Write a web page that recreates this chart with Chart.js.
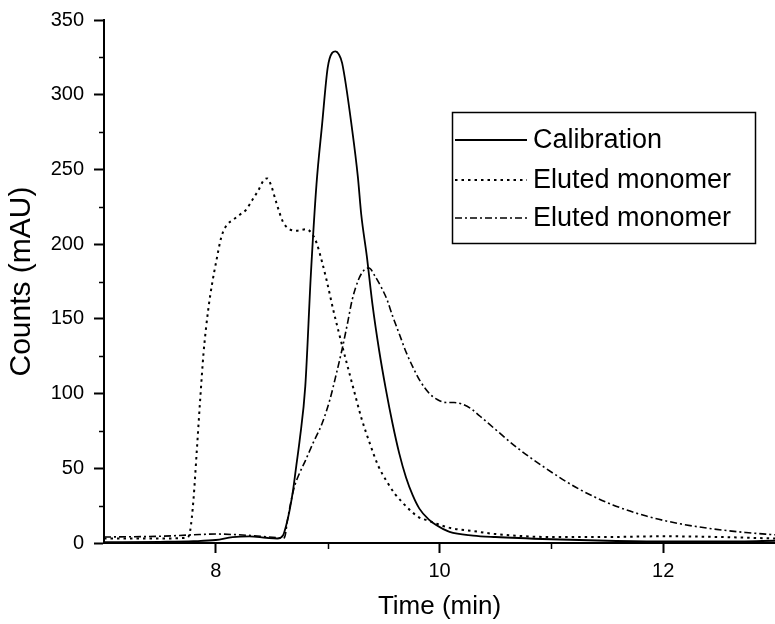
<!DOCTYPE html>
<html>
<head>
<meta charset="utf-8">
<script src="https://cdn.jsdelivr.net/npm/chart.js@4/dist/chart.umd.min.js"></script>
<style>
html,body{margin:0;padding:0;background:#fff;}
#wrap{width:775px;height:624px;position:relative;}
</style>
</head>
<body>
<div id="wrap"><canvas id="c" width="775" height="624"></canvas></div>
<script>
// ---- data ----
const seriesLabels = ['Calibration', 'Eluted monomer', 'Eluted monomer'];

const calTime   = [7.0, 7.5, 7.8, 8.0, 8.15, 8.3, 8.45, 8.55, 8.6, 8.63, 8.66, 8.69, 8.72, 8.75, 8.8, 8.85, 8.9, 8.95, 9.0, 9.04, 9.07, 9.1, 9.13, 9.22, 9.27, 9.3, 9.35, 9.4, 9.46, 9.52, 9.58, 9.64, 9.7, 9.76, 9.82, 9.9, 9.97, 10.09, 10.3, 10.5, 11.0, 11.5, 12.0, 12.5, 13.0];
const calCounts = [0.5, 0.8, 1.2, 2, 4, 4.5, 3.5, 3, 5, 12, 22, 35, 52, 69, 105, 180, 240, 280, 318, 328, 329, 327, 321, 276, 245, 220, 192, 160, 129, 103, 80, 60, 44, 32, 23, 16, 12, 7.5, 5, 4, 2.5, 1.5, 1, 1, 1.5];

const elu1Time   = [7.0, 7.5, 7.74, 7.77, 7.8, 7.83, 7.86, 7.89, 7.93, 7.97, 8.0, 8.05, 8.1, 8.15, 8.22, 8.27, 8.33, 8.38, 8.43, 8.46, 8.5, 8.54, 8.6, 8.66, 8.72, 8.81, 8.86, 8.9, 8.95, 8.99, 9.05, 9.13, 9.2, 9.26, 9.3, 9.38, 9.45, 9.53, 9.6, 9.67, 9.75, 9.82, 9.9, 9.97, 10.1, 10.3, 10.5, 11.0, 11.5, 12.0, 12.5, 13.0];
const elu1Counts = [3, 3, 3.5, 8, 29, 62, 96, 127, 155, 175, 187, 205, 213, 216, 220, 223, 230, 236, 243, 244, 238, 228, 215, 210, 209, 210, 207, 201, 188, 176, 156, 132, 112, 95, 84, 66, 52, 41, 33, 27, 21, 17, 15, 13, 10, 8, 6, 4, 4, 4.5, 4, 3];

const elu2Time   = [7.0, 7.5, 7.8, 8.0, 8.2, 8.4, 8.55, 8.6, 8.62, 8.64, 8.67, 8.7, 8.75, 8.8, 8.87, 8.95, 9.02, 9.08, 9.13, 9.18, 9.22, 9.28, 9.33, 9.37, 9.42, 9.48, 9.53, 9.58, 9.64, 9.7, 9.76, 9.83, 9.91, 9.98, 10.06, 10.13, 10.2, 10.28, 10.36, 10.5, 10.69, 10.95, 11.25, 11.55, 11.85, 12.14, 12.44, 12.74, 13.0];
const elu2Counts = [4, 4.5, 5.5, 6, 5.5, 4.5, 3.5, 3, 5, 15, 27, 37, 47, 55, 67, 80, 96, 114, 130, 148, 163, 177, 183, 184, 179, 171, 163, 152, 140, 128, 118, 108, 100, 96, 94, 94, 93, 90, 85, 76, 64, 50, 36, 25.5, 18, 13, 9.5, 7, 5.5];

const xTicks = [8, 10, 12];
const xMinorTicks = [9, 11];
const yTicks = [0, 50, 100, 150, 200, 250, 300, 350];
const yMinorTicks = [25, 75, 125, 175, 225, 275, 325];

// ---- build ----
const toPts = (xs, ys) => xs.map((x, i) => ({x: x, y: ys[i]}));
const FONT = '"Liberation Sans", Arial, Helvetica, sans-serif';
Chart.defaults.font.family = FONT;
Chart.defaults.color = '#000';

const styles = [
  {borderDash: [], borderWidth: 1.8},
  {borderDash: [2.5, 4], borderWidth: 2},
  {borderDash: [7, 3, 2, 3], borderWidth: 1.6}
];

const datasets = [
  toPts(calTime, calCounts),
  toPts(elu1Time, elu1Counts),
  toPts(elu2Time, elu2Counts)
].map((d, i) => ({
  label: seriesLabels[i],
  data: d,
  borderColor: '#000',
  backgroundColor: '#000',
  borderWidth: styles[i].borderWidth,
  borderDash: styles[i].borderDash,
  pointRadius: 0,
  cubicInterpolationMode: 'monotone',
  fill: false
}));

const minorTicks = {
  id: 'minorTicks',
  afterDraw(chart) {
    const ctx = chart.ctx, xs = chart.scales.x, ys = chart.scales.y;
    const a = chart.chartArea;
    ctx.save();
    ctx.strokeStyle = '#000';
    ctx.lineWidth = 1.5;
    ctx.beginPath();
    yMinorTicks.forEach(v => {
      const p = Math.round(ys.getPixelForValue(v)) + 0.5;
      ctx.moveTo(a.left - 5, p); ctx.lineTo(a.left, p);
    });
    xMinorTicks.forEach(v => {
      const p = Math.round(xs.getPixelForValue(v)) + 0.5;
      ctx.moveTo(p, a.bottom); ctx.lineTo(p, a.bottom + 6);
    });
    ctx.stroke();
    ctx.restore();
  }
};

const boxLegend = {
  id: 'boxLegend',
  afterDraw(chart) {
    const ctx = chart.ctx;
    const bx = 452, by = 112, bw = 303, bh = 131;
    ctx.save();
    ctx.strokeStyle = '#000';
    ctx.lineWidth = 1.5;
    ctx.setLineDash([]);
    ctx.strokeRect(bx + 0.5, by + 0.5, bw, bh);
    const rows = [140, 180, 218];
    chart.data.datasets.forEach((ds, i) => {
      const y = rows[i];
      ctx.beginPath();
      ctx.setLineDash(ds.borderDash);
      ctx.lineWidth = ds.borderWidth;
      ctx.moveTo(bx + 3, y); ctx.lineTo(bx + 75, y);
      ctx.stroke();
      ctx.setLineDash([]);
      ctx.fillStyle = '#000';
      ctx.font = '27px ' + FONT;
      ctx.textBaseline = 'middle';
      ctx.textAlign = 'left';
      ctx.fillText(ds.label, bx + 81, y + 1);
    });
    ctx.restore();
  }
};

new Chart(document.getElementById('c'), {
  type: 'line',
  data: {datasets: datasets},
  options: {
    responsive: false,
    animation: false,
    devicePixelRatio: 1,
    layout: {padding: {top: 20, right: 0, bottom: 0, left: 0}},
    plugins: {legend: {display: false}, tooltip: {enabled: false}},
    scales: {
      x: {
        type: 'linear',
        position: 'bottom',
        min: 7, max: 13,
        afterBuildTicks: (axis) => { axis.ticks = xTicks.map(v => ({value: v})); },
        afterFit: (axis) => { axis.height = 81; },
        border: {display: true, color: '#000', width: 2},
        grid: {drawOnChartArea: false, drawTicks: true, tickLength: 10, tickColor: '#000', tickWidth: 2},
        ticks: {color: '#000', font: {size: 20}, padding: 6, maxRotation: 0, autoSkip: false},
        title: {display: true, text: 'Time (min)', color: '#000', font: {size: 26}, padding: {top: 0, bottom: 2}}
      },
      y: {
        type: 'linear',
        min: 0, max: 350,
        afterBuildTicks: (axis) => { axis.ticks = yTicks.map(v => ({value: v})); },
        afterFit: (axis) => { axis.width = 104; },
        border: {display: true, color: '#000', width: 2},
        grid: {drawOnChartArea: false, drawTicks: true, tickLength: 10, tickColor: '#000', tickWidth: 2},
        ticks: {color: '#000', font: {size: 20, lineHeight: 1}, padding: 10},
        title: {display: true, text: 'Counts (mAU)', color: '#000', font: {size: 30}, padding: {top: 4, bottom: 0}}
      }
    }
  },
  plugins: [minorTicks, boxLegend]
});
</script>
</body>
</html>
